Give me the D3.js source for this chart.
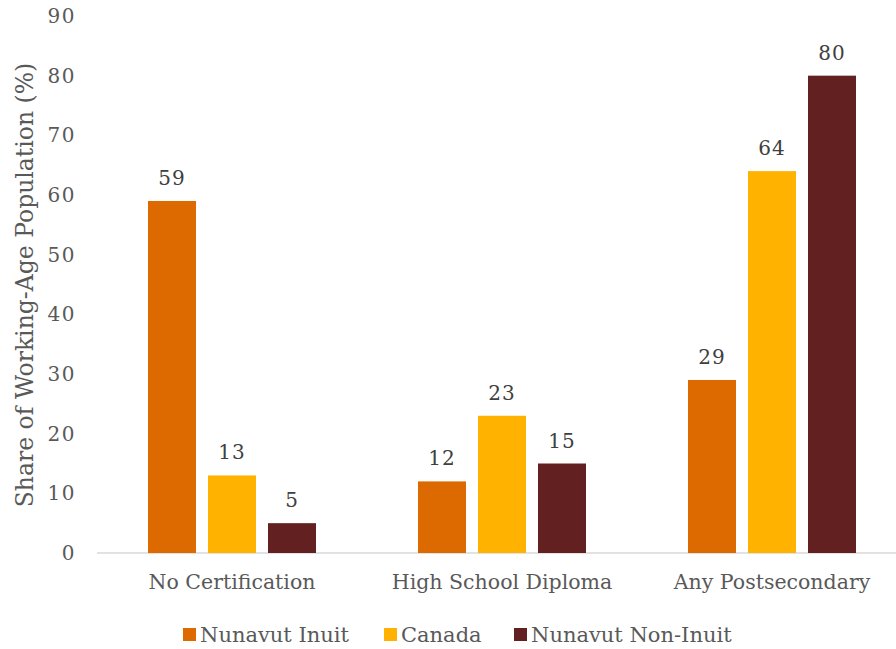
<!DOCTYPE html>
<html>
<head>
<meta charset="utf-8">
<script src="https://cdn.jsdelivr.net/npm/d3@7"></script>
<style>
  html, body { margin: 0; padding: 0; background: #fff; }
  svg text { font-family: "DejaVu Serif", "Liberation Serif", serif; }
</style>
</head>
<body>
<svg id="chart" width="896" height="649"></svg>
<script>
// Educational attainment of the working-age population
const categories = ["No Certification", "High School Diploma", "Any Postsecondary"];
const seriesNames = ["Nunavut Inuit", "Canada", "Nunavut Non-Inuit"];
const nunavutInuit = [59, 12, 29];
const canada = [13, 23, 64];
const nunavutNonInuit = [5, 15, 80];
const yTicks = [0, 10, 20, 30, 40, 50, 60, 70, 80, 90];
const colors = ["#DD6A00", "#FFB300", "#622020"];

const seriesValues = [nunavutInuit, canada, nunavutNonInuit];

const svg = d3.select("#chart");
const labelSize = 20.5;
const legendSize = 21;
const numberSize = 20;

const x = d3.scaleBand().domain(categories).range([97, 907]).paddingInner(0).paddingOuter(0);
const xSub = d3.scaleBand().domain(seriesNames).range([0, 168]).paddingInner(0.2).paddingOuter(0);
const y = d3.scaleLinear().domain([0, 90]).range([553, 16]);

// baseline
svg.append("line")
  .attr("x1", 97).attr("x2", 896)
  .attr("y1", y(0)).attr("y2", y(0))
  .attr("stroke", "#D9D9D9").attr("stroke-width", 1.5);

// y axis tick labels
const yAxis = d3.axisLeft(y).tickValues(yTicks).tickSize(0).tickPadding(0);
const yg = svg.append("g").attr("transform", "translate(76,0)").call(yAxis);
yg.select(".domain").remove();
yg.selectAll("text")
  .attr("fill", "#595959")
  .style("font-size", numberSize + "px")
  .style("letter-spacing", "1.5px")
  .style("font-family", "'DejaVu Serif', serif");

// x axis category labels
const xAxis = d3.axisBottom(x).tickSize(0).tickPadding(0);
const xg = svg.append("g").attr("transform", "translate(0,574)").call(xAxis);
xg.select(".domain").remove();
xg.selectAll("text")
  .attr("fill", "#595959")
  .style("font-size", labelSize + "px")
  .style("font-family", "'DejaVu Serif', serif");

// y axis title
svg.append("text")
  .attr("transform", "translate(33,285) rotate(-90)")
  .attr("text-anchor", "middle")
  .attr("fill", "#595959")
  .style("font-size", "23.5px")
  .text("Share of Working-Age Population (%)");

// bars and value labels
categories.forEach((cat, ci) => {
  const groupX = x(cat) + (x.bandwidth() - 168) / 2;
  seriesNames.forEach((s, si) => {
    const v = seriesValues[si][ci];
    const bx = groupX + xSub(s);
    svg.append("rect")
      .attr("x", bx).attr("y", y(v))
      .attr("width", xSub.bandwidth())
      .attr("height", y(0) - y(v))
      .attr("fill", colors[si]);
    svg.append("text")
      .attr("x", bx + xSub.bandwidth() / 2)
      .attr("y", y(v) - 16)
      .attr("text-anchor", "middle")
      .attr("fill", "#404040")
      .style("font-size", numberSize + "px")
      .style("letter-spacing", "1px")
      .text(v);
  });
});

// legend
const legendItems = [
  { name: seriesNames[0], x: 183 },
  { name: seriesNames[1], x: 384 },
  { name: seriesNames[2], x: 514 }
];
legendItems.forEach((d, i) => {
  svg.append("rect")
    .attr("x", d.x).attr("y", 628)
    .attr("width", 13).attr("height", 13)
    .attr("fill", colors[i]);
  svg.append("text")
    .attr("x", d.x + 17).attr("y", 642)
    .attr("fill", "#595959")
    .style("font-size", legendSize + "px")
    .text(d.name);
});
</script>
</body>
</html>
